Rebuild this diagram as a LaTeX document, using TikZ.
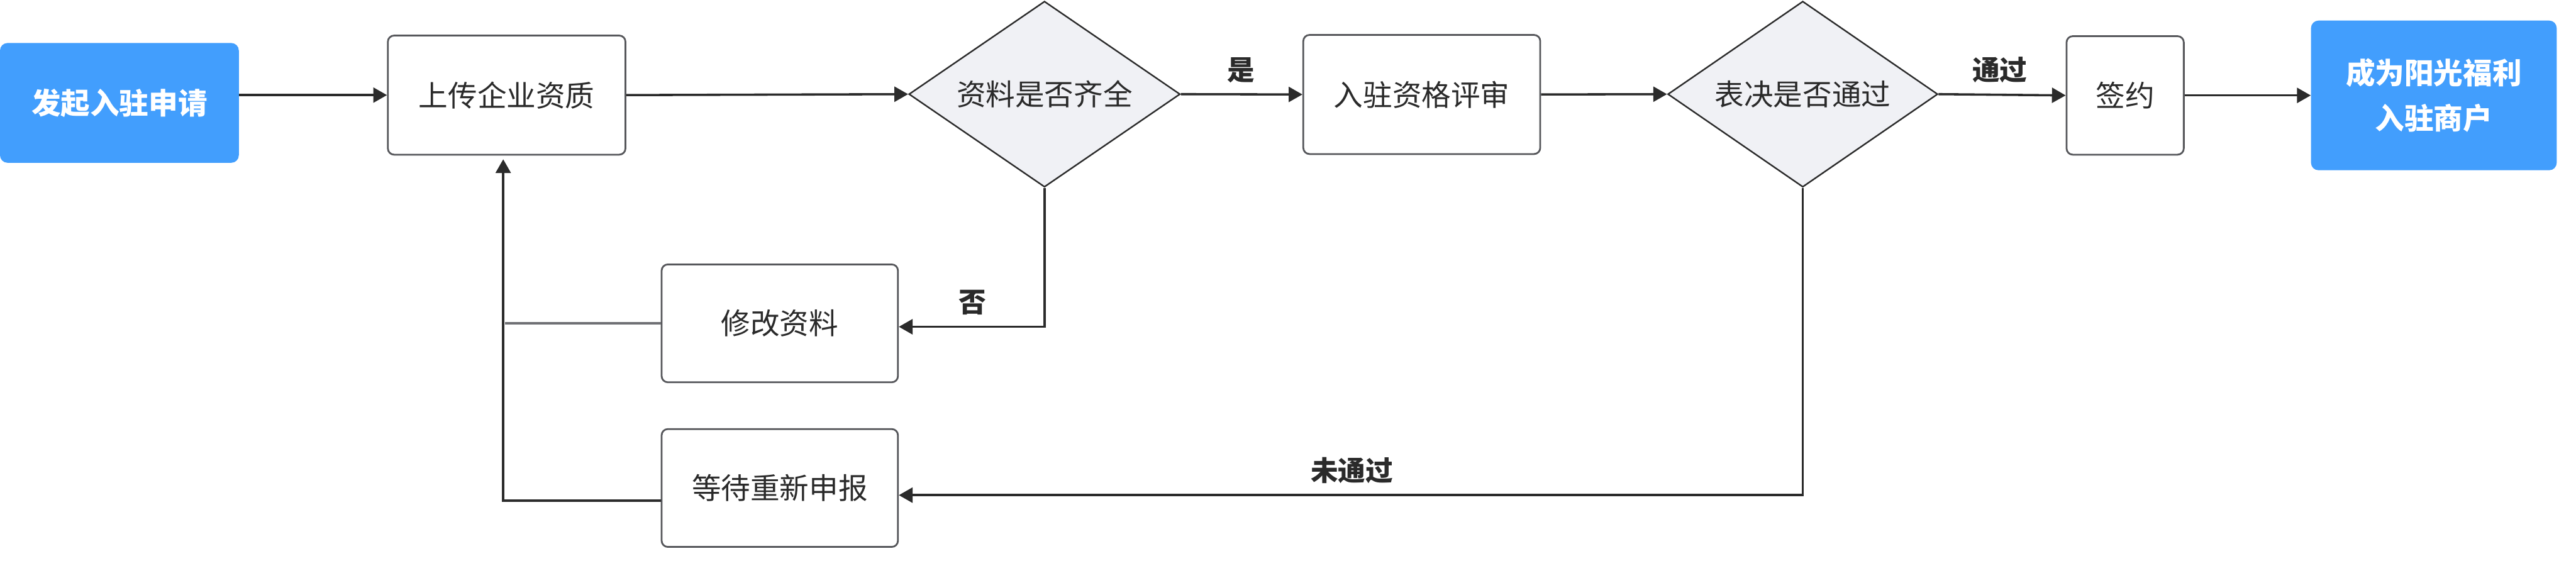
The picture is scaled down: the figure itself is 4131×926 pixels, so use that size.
\documentclass[tikz,border=0pt]{standalone}
\usepackage{fontspec}
\setmainfont{Noto Sans CJK SC}
\usetikzlibrary{shapes.geometric,arrows.meta}
\definecolor{bluebox}{HTML}{429EFD}
\definecolor{dfill}{HTML}{F0F1F5}
\definecolor{bord}{HTML}{56575B}
\definecolor{ln}{HTML}{2B2B2B}
\definecolor{txt}{HTML}{2A2A2A}
\begin{document}
\begin{tikzpicture}[x=0.5pt,y=-0.5pt,
  every node/.style={font=\fontsize{23.5pt}{30pt}\selectfont, text=txt},
  procbox/.style={draw=bord, line width=1.4pt, rounded corners=5pt, fill=white, inner sep=0pt, align=center},
  bluenode/.style={fill=bluebox, rounded corners=6pt, inner sep=0pt, align=center, text=white, font=\fontsize{23.5pt}{36pt}\selectfont\bfseries},
  decision/.style={diamond, draw=ln, line width=1.2pt, fill=dfill, inner sep=0pt, aspect=1.46},
  conn/.style={draw=ln, line width=1.8pt, -{Triangle[length=11pt,width=12pt]}},
  lbl/.style={font=\fontsize{22pt}{26pt}\selectfont\bfseries, text=txt}]
\useasboundingbox (0,0) rectangle (4131,926);
% nodes
\node[bluenode, minimum width=191.5pt, minimum height=96pt] (start) at (191.5,165) {发起入驻申请};
\node[procbox, minimum width=190.5pt, minimum height=95.5pt] (upload) at (812.5,152.5) {上传企业资质};
\node[decision, minimum width=217.5pt, minimum height=149pt] (d1) at (1675,151) {资料是否齐全};
\node[procbox, minimum width=190pt, minimum height=95.5pt] (review) at (2280,151.5) {入驻资格评审};
\node[decision, minimum width=216.5pt, minimum height=149pt] (d2) at (2891,151) {表决是否通过};
\node[procbox, minimum width=94pt, minimum height=95pt] (sign) at (3408,153) {签约};
\node[bluenode, minimum width=197pt, minimum height=120pt] (end) at (3903,153) {成为阳光福利\\入驻商户};
\node[procbox, minimum width=189.5pt, minimum height=94.5pt] (modify) at (1250.5,518.5) {修改资料};
\node[procbox, minimum width=189.5pt, minimum height=94.5pt] (wait) at (1250.5,782.5) {等待重新申报};
\coordinate (c1) at (1675,524);
\coordinate (c2) at (2891,794);
\coordinate (c3) at (807,803);
\coordinate (c4) at (810,518.5);
% labels
\node[lbl] (lyes) at (1990,113) {是};
\node[lbl] (lpass) at (3207,112) {通过};
\node[lbl] (lno) at (1559,485) {否};
\node[lbl] (lfail) at (2168,754) {未通过};
% connectors
\draw[conn] (start.east |- upload.west) -- (upload.west);
\draw[conn] (upload.east) -- (d1.west);
\draw[conn] (d1.east) -- (review.west);
\draw[conn] (review.east) -- (d2.west);
\draw[conn] (d2.east) -- (sign.west);
\draw[conn] (sign.east) -- (end.west |- sign.east);
\draw[conn] (d1.south) -- (c1) -- (modify.east |- c1);
\draw[conn] (d2.south) -- (c2) -- (wait.east |- c2);
\draw[conn, shorten >=3pt] (wait.west |- c3) -- (c3) -- (upload.south -| c3);
\draw[draw=bord!85, line width=1.8pt] (modify.west |- c4) -- (c4);
\end{tikzpicture}
\end{document}
